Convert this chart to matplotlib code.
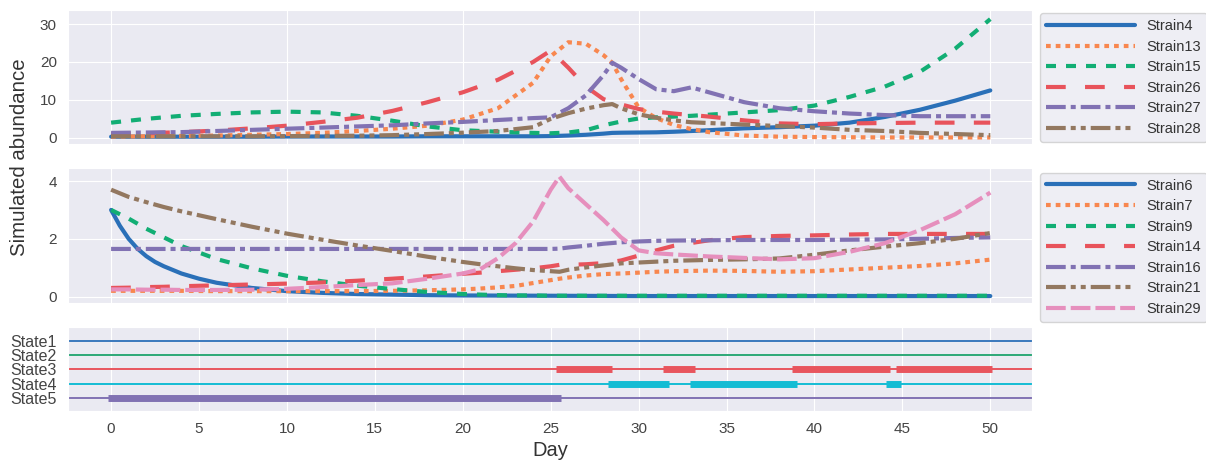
import matplotlib
matplotlib.use("Agg")
import matplotlib.pyplot as plt
import seaborn as sns

# estilo parecido com o seaborn darkgrid
sns.set_style("darkgrid")
plt.rcParams['font.family'] = ['Liberation Sans', 'DejaVu Sans']
plt.rcParams['lines.scale_dashes'] = False

# ---------------- dados ----------------
# painel de cima
top_days = [0, 2, 4, 6, 8, 10, 12, 14, 16, 18, 20, 22, 24, 25, 26, 27, 28, 28.5, 29,
            30, 31, 32, 33, 34, 36, 38, 40, 42, 44, 46, 48, 50]
top_names = ['Strain4', 'Strain13', 'Strain15', 'Strain26', 'Strain27', 'Strain28']
strain4 = [0.3, 0.3, 0.3, 0.3, 0.3, 0.35, 0.35, 0.35, 0.35, 0.4, 0.4, 0.4, 0.4, 0.45, 0.6, 0.8,
           1.1, 1.3, 1.35, 1.4, 1.45, 1.6, 1.8, 2.0, 2.5, 2.8, 3.2, 4.0, 5.5, 7.4, 9.8, 12.5]
strain13 = [0.3, 0.4, 0.5, 0.6, 0.8, 1.0, 1.3, 1.8, 2.4, 3.2, 4.8, 7.8, 14.5, 21.5, 25.2, 24.8,
            21.8, 19.8, 15.5, 8.0, 5.2, 3.4, 2.3, 1.5, 0.6, 0.3, 0.2, 0.15, 0.1, 0.1, 0.1, 0.1]
strain15 = [4.0, 5.0, 5.8, 6.3, 6.7, 6.9, 6.7, 5.8, 4.5, 3.0, 2.0, 1.6, 1.3, 1.2, 1.4, 2.0,
            3.3, 3.8, 4.3, 5.1, 5.4, 5.6, 5.8, 6.1, 6.7, 7.3, 8.5, 10.8, 13.5, 17.4, 23.5, 31.3]
strain26 = [1.0, 1.2, 1.5, 1.9, 2.5, 3.2, 4.2, 5.3, 7.1, 9.4, 12.0, 15.3, 20.0, 23.0, 18.5, 13.5,
            10.2, 9.5, 8.8, 7.6, 6.9, 6.4, 6.0, 5.6, 4.6, 3.8, 3.6, 3.8, 3.9, 4.0, 4.0, 4.0]
strain27 = [1.3, 1.4, 1.5, 1.8, 2.1, 2.4, 2.7, 3.0, 3.3, 3.8, 4.2, 4.7, 5.2, 5.4, 7.8, 11.2,
            16.5, 19.8, 18.5, 15.5, 12.8, 12.3, 13.3, 12.0, 9.4, 7.8, 7.0, 6.4, 6.0, 5.7, 5.7, 5.7]
strain28 = [0.4, 0.4, 0.4, 0.4, 0.4, 0.45, 0.5, 0.55, 0.7, 1.0, 1.35, 1.8, 2.8, 5.0, 6.5, 7.7,
            8.6, 8.9, 7.8, 6.2, 5.3, 4.6, 4.1, 3.9, 3.5, 3.1, 2.7, 2.1, 1.8, 1.3, 1.0, 0.7]

# painel do meio
mid_days = [0, 1, 2, 3, 4, 6, 8, 10, 12, 14, 16, 18, 20, 21, 22, 23, 24, 25, 25.5, 26,
            27, 28, 29, 30, 31, 32, 34, 36, 38, 40, 42, 44, 46, 48, 50]
mid_names = ['Strain6', 'Strain7', 'Strain9', 'Strain14', 'Strain16', 'Strain21', 'Strain29']
# Strain6 cai rapido, tem seus proprios dias
strain6_days = [0, 0.5, 1, 1.5, 2, 2.5, 3, 4, 5, 6, 8, 10, 12, 14, 16, 18, 20, 25, 30, 40, 50]
strain6 = [3.0, 2.45, 2.0, 1.66, 1.4, 1.2, 1.05, 0.8, 0.62, 0.48, 0.3, 0.19, 0.13, 0.09, 0.07,
           0.05, 0.04, 0.03, 0.02, 0.02, 0.02]
strain7 = [0.2, 0.2, 0.2, 0.2, 0.2, 0.19, 0.19, 0.19, 0.19, 0.19, 0.2, 0.22, 0.25, 0.28, 0.32,
           0.37, 0.47, 0.57, 0.62, 0.66, 0.73, 0.78, 0.8, 0.83, 0.86, 0.88, 0.9, 0.89, 0.86,
           0.88, 0.94, 1.0, 1.06, 1.15, 1.28]
strain9 = [3.0, 2.7, 2.35, 2.05, 1.75, 1.3, 0.98, 0.72, 0.53, 0.38, 0.26, 0.16, 0.09, 0.07,
           0.05, 0.04, 0.04, 0.03, 0.03, 0.03, 0.03, 0.03, 0.03, 0.03, 0.03, 0.03, 0.03, 0.03,
           0.03, 0.03, 0.03, 0.03, 0.03, 0.03, 0.03]
strain14 = [0.3, 0.31, 0.33, 0.34, 0.36, 0.39, 0.42, 0.45, 0.49, 0.55, 0.62, 0.7, 0.79, 0.83,
            0.88, 0.93, 0.98, 1.05, 1.1, 1.1, 1.12, 1.16, 1.25, 1.42, 1.6, 1.76, 1.95, 2.06,
            2.1, 2.12, 2.15, 2.17, 2.17, 2.17, 2.17]
strain16 = [1.65, 1.65, 1.65, 1.65, 1.65, 1.65, 1.65, 1.65, 1.65, 1.65, 1.65, 1.65, 1.65, 1.65,
            1.65, 1.65, 1.65, 1.65, 1.66, 1.7, 1.76, 1.83, 1.88, 1.91, 1.93, 1.94, 1.95, 1.96,
            1.96, 1.96, 1.97, 1.98, 2.0, 2.03, 2.05]
strain21 = [3.7, 3.45, 3.27, 3.1, 2.95, 2.68, 2.42, 2.18, 1.97, 1.77, 1.58, 1.38, 1.2, 1.12,
            1.05, 0.98, 0.92, 0.88, 0.86, 0.93, 1.01, 1.08, 1.15, 1.18, 1.21, 1.24, 1.27, 1.29,
            1.32, 1.45, 1.6, 1.73, 1.85, 2.0, 2.2]
strain29 = [0.25, 0.25, 0.24, 0.24, 0.23, 0.23, 0.24, 0.27, 0.33, 0.4, 0.46, 0.62, 0.8, 0.95,
            1.33, 1.85, 2.6, 3.7, 4.15, 3.75, 3.2, 2.65, 2.05, 1.6, 1.5, 1.46, 1.39, 1.34, 1.29,
            1.33, 1.55, 1.85, 2.3, 2.85, 3.6]

# painel de baixo: estados (inicio, fim) em dias
state_names = ['State1', 'State2', 'State3', 'State4', 'State5']
state1_on = []
state2_on = []
state3_on = [(25.3, 28.5), (31.4, 33.2), (38.7, 44.3), (44.65, 50.1)]
state4_on = [(28.25, 31.7), (32.9, 39.0), (44.05, 44.9)]
state5_on = [(-0.15, 25.6)]

x_ticks = list(range(0, 51, 5))

# cores e estilos
line_colors = ['#2a70b8', '#f8874f', '#12ae74', '#e8535b', '#8172b3', '#937860', '#e68fbd']
line_styles = ['-', (0, (3.4, 3.6)), (0, (7.2, 7.2)), (0, (14.2, 13.9)),
               (0, (14.2, 3.6, 3.6, 3.6)), (0, (14.2, 3.6, 3.6, 3.6, 3.6, 3.6)),
               (0, (14.2, 3.6))]
state_colors = ['#3a78bd', '#2ca877', '#e8555e', '#14bcd4', '#8172b3']

# ---------------- figura ----------------
fig = plt.figure(figsize=(12.06, 4.61), dpi=100)
ax1 = fig.add_axes([0.0564, 0.6887, 0.7993, 0.2896])
ax2 = fig.add_axes([0.0564, 0.3434, 0.7993, 0.2915])
ax3 = fig.add_axes([0.0564, 0.1091, 0.7993, 0.1809])

xlim = (-2.45, 52.37)

top_vals = [strain4, strain13, strain15, strain26, strain27, strain28]
for i, (nome, vals) in enumerate(zip(top_names, top_vals)):
    ax1.plot(top_days, vals, color=line_colors[i], linestyle=line_styles[i], lw=3,
             label=nome)

mid_vals = [strain6, strain7, strain9, strain14, strain16, strain21, strain29]
for i, (nome, vals) in enumerate(zip(mid_names, mid_vals)):
    dias = strain6_days if nome == 'Strain6' else mid_days
    ax2.plot(dias, vals, color=line_colors[i], linestyle=line_styles[i], lw=3,
             label=nome)

ax1.set_ylim(-1.5, 33.7)
ax1.set_yticks([0, 10, 20, 30])
ax2.set_ylim(-0.21, 4.44)
ax2.set_yticks([0, 2, 4])

for ax in (ax1, ax2):
    ax.set_xlim(xlim)
    ax.set_xticks(range(0, 51, 10))
    ax.tick_params(labelbottom=False, length=0, labelsize=11, pad=8, labelcolor='#444444')

leg_kw = dict(loc='upper left', fontsize=10.5, handlelength=6.1, handletextpad=0.8,
              labelspacing=0.45, borderaxespad=0, borderpad=0.4, labelcolor='#333333')
ax1.legend(bbox_to_anchor=(1.0083, 0.975), **leg_kw)
ax2.legend(bbox_to_anchor=(1.0083, 0.967), **leg_kw)

# estados
state_on = [state1_on, state2_on, state3_on, state4_on, state5_on]
ypos = [4, 3, 2, 1, 0]
for i in range(5):
    ax3.axhline(ypos[i], color=state_colors[i], lw=1.4, zorder=2)
    for (a, b) in state_on[i]:
        ax3.plot([a, b], [ypos[i], ypos[i]], color=state_colors[i], lw=5,
                 solid_capstyle='butt', zorder=3)

ax3.set_xlim(xlim)
ax3.set_ylim(-0.92, 4.97)
ax3.set_yticks(ypos)
ax3.set_yticklabels(state_names)
ax3.set_xticks(x_ticks)
ax3.tick_params(length=0, labelsize=11, pad=8, labelcolor='#444444')
ax3.tick_params(axis='y', labelsize=11.5)
ax3.set_xlabel('Day', fontsize=14.5, color='#333333', labelpad=4)

fig.text(0.0158, 0.66, 'Simulated abundance', rotation=90, fontsize=14.7,
         color='#333333', ha='center', va='center')

fig.savefig('out.png', dpi=100)
